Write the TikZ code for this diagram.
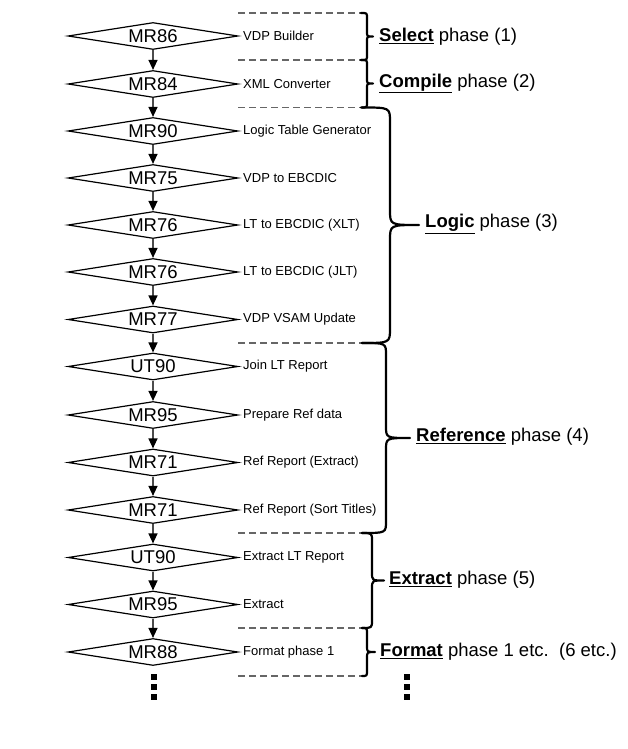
\documentclass[tikz,border=0pt]{standalone}
\usepackage{fontspec}
\setmainfont{Liberation Sans}
\usepackage{tikz}
\usetikzlibrary{arrows.meta}
\usetikzlibrary{shapes.geometric}

\begin{document}
\begin{tikzpicture}[x=1pt,y=1pt,yscale=-1,xscale=1,
  prog/.style={draw, shape=diamond, aspect=6, line width=1.2pt, inner sep=0pt,
    minimum width=170pt, minimum height=27pt, font=\fontsize{18.5}{22}\selectfont},
  note/.style={anchor=west, inner sep=0pt, font=\fontsize{13}{15}\selectfont},
  phase/.style={anchor=west, inner sep=0pt, font=\fontsize{18.5}{22}\selectfont},
  flow/.style={draw=black!70, line width=1.3pt, -{Triangle[length=10pt,width=9pt,color=black]}},
  sep/.style={draw=black!60, line width=1.3pt, dash pattern=on 7pt off 4pt},
  curly/.style={draw=black, line width=2.2pt, line cap=round, line join=round}]
\useasboundingbox (0,0) rectangle (628,749);

%Shape: Diamond
\node [prog] (mr86) at (153,36) {MR86};
\node [prog] (mr84) at (153,84) {MR84};
\node [prog] (mr90) at (153,131) {MR90};
\node [prog] (mr75) at (153,178) {MR75};
\node [prog] (mr76x) at (153,225) {MR76};
\node [prog] (mr76j) at (153,272) {MR76};
\node [prog] (mr77) at (153,319.5) {MR77};
\node [prog] (ut90a) at (153,366.5) {UT90};
\node [prog] (mr95a) at (153,415) {MR95};
\node [prog] (mr71e) at (153,462.5) {MR71};
\node [prog] (mr71s) at (153,510) {MR71};
\node [prog] (ut90b) at (153,557.5) {UT90};
\node [prog] (mr95b) at (153,604.5) {MR95};
\node [prog] (mr88) at (153,652) {MR88};

%Straight Lines
\draw [flow] (mr86) -- (mr84);
\draw [flow] (mr84) -- (mr90);
\draw [flow] (mr90) -- (mr75);
\draw [flow] (mr75) -- (mr76x);
\draw [flow] (mr76x) -- (mr76j);
\draw [flow] (mr76j) -- (mr77);
\draw [flow] (mr77) -- (ut90a);
\draw [flow] (ut90a) -- (mr95a);
\draw [flow] (mr95a) -- (mr71e);
\draw [flow] (mr71e) -- (mr71s);
\draw [flow] (mr71s) -- (ut90b);
\draw [flow] (ut90b) -- (mr95b);
\draw [flow] (mr95b) -- (mr88);

%Text
\node [note] (t86) at (243,36) {VDP Builder};
\node [note] (t84) at (243,84) {XML Converter};
\node [note] (t90) at (243,131) {Logic Table Generator};
\node [note] (t75) at (243,178) {VDP to EBCDIC};
\node [note] (t76x) at (243,225) {LT to EBCDIC (XLT)};
\node [note] (t76j) at (243,272) {LT to EBCDIC (JLT)};
\node [note] (t77) at (243,319.5) {VDP VSAM Update};
\node [note] (tut90a) at (243,366.5) {Join LT Report};
\node [note] (t95a) at (243,415) {Prepare Ref data};
\node [note] (t71e) at (243,462.5) {Ref Report (Extract)};
\node [note] (t71s) at (243,510) {Ref Report (Sort Titles)};
\node [note] (tut90b) at (243,557.5) {Extract LT Report};
\node [note] (t95b) at (243,604.5) {Extract};
\node [note] (t88) at (243,652) {Format phase 1};

%Dashed Lines
\draw [sep] (238,13) -- (361,13);
\draw [sep] (238,60) -- (361,60);
\draw [sep] (238,107.5) -- (362,107.5);
\draw [sep] (238,343) -- (362,343);
\draw [sep] (238,533) -- (362,533);
\draw [sep] (238,628) -- (362,628);
\draw [sep] (238,676) -- (362,676);

%Curve Lines: braces
\draw [curly] (361,13) .. controls (367,13) .. (367,18) -- (367,31.5) .. controls (367,36.5) .. (373,36.5) .. controls (367,36.5) .. (367,41.5) -- (367,55) .. controls (367,60) .. (361,60);
\draw [curly] (361,60) .. controls (367,60) .. (367,65) -- (367,78.5) .. controls (367,83.5) .. (373,83.5) .. controls (367,83.5) .. (367,88.5) -- (367,102.5) .. controls (367,107.5) .. (361,107.5);
\draw [curly] (362,107.5) .. controls (390,107.5) .. (390,122) -- (390,210) .. controls (390,225) .. (419,225) .. controls (390,225) .. (390,240) -- (390,328) .. controls (390,343) .. (362,343);
\draw [curly] (362,343) .. controls (386,343) .. (386,355) -- (386,426) .. controls (386,438) .. (410,438) .. controls (386,438) .. (386,450) -- (386,521) .. controls (386,533) .. (362,533);
\draw [curly] (362,533) .. controls (372,533) .. (372,541) -- (372,572.5) .. controls (372,580.5) .. (384,580.5) .. controls (372,580.5) .. (372,588.5) -- (372,620) .. controls (372,628) .. (362,628);
\draw [curly] (362,628) .. controls (367,628) .. (367,634) -- (367,646) .. controls (367,652) .. (375,652) .. controls (367,652) .. (367,658) -- (367,670) .. controls (367,676) .. (362,676);

%Phase labels
\node [phase] (select) at (379,36.5) {\underline{\textbf{Select}} phase (1)};
\node [phase] (compile) at (379,83.5) {\underline{\textbf{Compile}} phase (2)};
\node [phase] (logic) at (425,224) {\underline{\textbf{Logic}} phase (3)};
\node [phase] (reference) at (416,437) {\underline{\textbf{Reference}} phase (4)};
\node [phase] (extract) at (389,579.5) {\underline{\textbf{Extract}} phase (5)};
\node [phase] (format) at (380,651.5) {\underline{\textbf{Format}} phase 1 etc.\ \ (6 etc.)};

%Shape: dots
\fill (151,673.5) rectangle (157,679.5);
\fill (151,683.5) rectangle (157,689.5);
\fill (151,693.5) rectangle (157,699.5);
\fill (404,673.5) rectangle (410,679.5);
\fill (404,683.5) rectangle (410,689.5);
\fill (404,693.5) rectangle (410,699.5);

\end{tikzpicture}
\end{document}
